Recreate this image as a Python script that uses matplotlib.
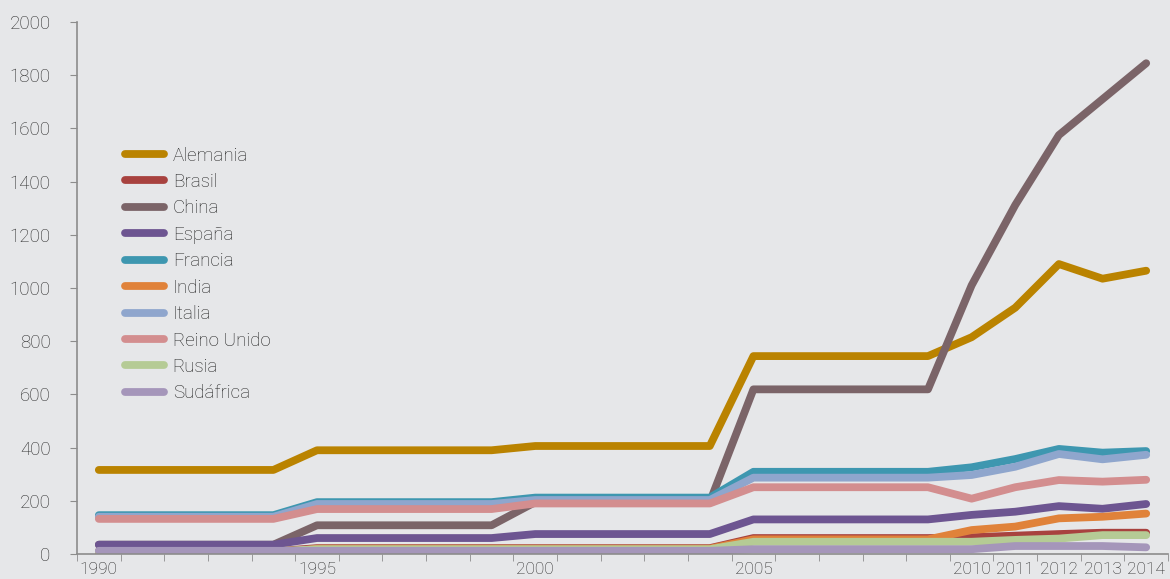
import numpy as np
import matplotlib
matplotlib.use("Agg")
import matplotlib.pyplot as plt
from matplotlib.ticker import FixedLocator

plt.rcParams['font.family'] = ['Roboto', 'DejaVu Sans']
plt.rcParams['font.weight'] = 'light'

# data
years = list(range(1990, 2015))
year_labels = ['1990', '1995', '2000', '2005', '2010', '2011', '2012', '2013', '2014']

alemania = [316, 316, 316, 316, 316, 390, 390, 390, 390, 390, 406, 406, 406, 406, 406,
            744, 744, 744, 744, 744, 815, 926, 1090, 1035, 1065]
brasil = [10, 10, 10, 10, 10, 22, 22, 22, 22, 22, 22, 22, 22, 22, 22,
          60, 60, 60, 60, 60, 63, 69, 75, 80, 80]
china = [35, 35, 35, 35, 35, 108, 108, 108, 108, 108, 195, 195, 195, 195, 195,
         619, 619, 619, 619, 619, 1010, 1312, 1575, 1710, 1845]
espana = [35, 35, 35, 35, 35, 60, 60, 60, 60, 60, 75, 75, 75, 75, 75,
          130, 130, 130, 130, 130, 147, 159, 180, 170, 188]
francia = [146, 146, 146, 146, 146, 195, 195, 195, 195, 195, 212, 212, 212, 212, 212,
           309, 309, 309, 309, 309, 326, 357, 395, 381, 387]
india = [2, 2, 2, 2, 2, 20, 20, 20, 20, 20, 20, 20, 20, 20, 20,
         55, 55, 55, 55, 55, 90, 103, 134, 140, 152]
italia = [140, 140, 140, 140, 140, 188, 188, 188, 188, 188, 203, 203, 203, 203, 203,
          287, 287, 287, 287, 287, 297, 328, 376, 356, 373]
reino_unido = [132, 132, 132, 132, 132, 169, 169, 169, 169, 169, 190, 190, 190, 190, 190,
               251, 251, 251, 251, 251, 208, 251, 278, 272, 279]
rusia = [10, 10, 10, 10, 10, 18, 18, 18, 18, 18, 18, 18, 18, 18, 18,
         46, 46, 46, 46, 46, 46, 53, 58, 71, 71]
sudafrica = [12, 12, 12, 12, 12, 12, 12, 12, 12, 12, 12, 12, 12, 12, 12,
             18, 18, 18, 18, 18, 18, 30, 30, 30, 25]

series = [
    ('Alemania', alemania, '#BA8300'),
    ('Brasil', brasil, '#A8423F'),
    ('China', china, '#7B6468'),
    ('España', espana, '#6D5591'),
    ('Francia', francia, '#3E97B0'),
    ('India', india, '#E0823A'),
    ('Italia', italia, '#8FA6CD'),
    ('Reino Unido', reino_unido, '#D38E8F'),
    ('Rusia', rusia, '#B5CB95'),
    ('Sudáfrica', sudafrica, '#A596BA'),
]

bg = '#E6E7E9'
fig = plt.figure(figsize=(11.7, 5.79), dpi=100, facecolor=bg)
ax = fig.add_axes([77 / 1170, 25 / 579, 1091 / 1170, 532 / 579], facecolor=bg)

for name, vals, col in series:
    ax.plot(years, vals, color=col, lw=5.6, label=name,
            solid_capstyle='round', solid_joinstyle='round')

ax.set_xlim(1989.5, 2014.5)
ax.set_ylim(0, 2000)
ax.set_yticks(np.arange(0, 2001, 200))
ax.set_xticks([int(y) for y in year_labels])
ax.set_xticklabels(year_labels)
ax.xaxis.set_minor_locator(FixedLocator(np.arange(1989.5, 2015, 1)))

for s in ['top', 'right']:
    ax.spines[s].set_visible(False)
for s in ['left', 'bottom']:
    ax.spines[s].set_color('#8C8C8C')
    ax.spines[s].set_linewidth(1.2)

ax.tick_params(axis='x', which='major', length=0, pad=6, labelsize=12.5, labelcolor='#2A2A2A')
ax.tick_params(axis='x', which='minor', length=5, color='#8C8C8C', direction='out')
ax.tick_params(axis='y', length=5, color='#8C8C8C', pad=14, labelsize=13.5, labelcolor='#2A2A2A')

leg = ax.legend(loc='upper left', bbox_to_anchor=(0.037, 0.78), frameon=False,
                fontsize=13.5, handlelength=2.1, handletextpad=0.45, labelspacing=0.45,
                borderaxespad=0)
for line in leg.get_lines():
    line.set_linewidth(5.6)
    line.set_solid_capstyle('round')
for t in leg.get_texts():
    t.set_color('#222222')

fig.savefig('out.png', dpi=100, facecolor=bg)
